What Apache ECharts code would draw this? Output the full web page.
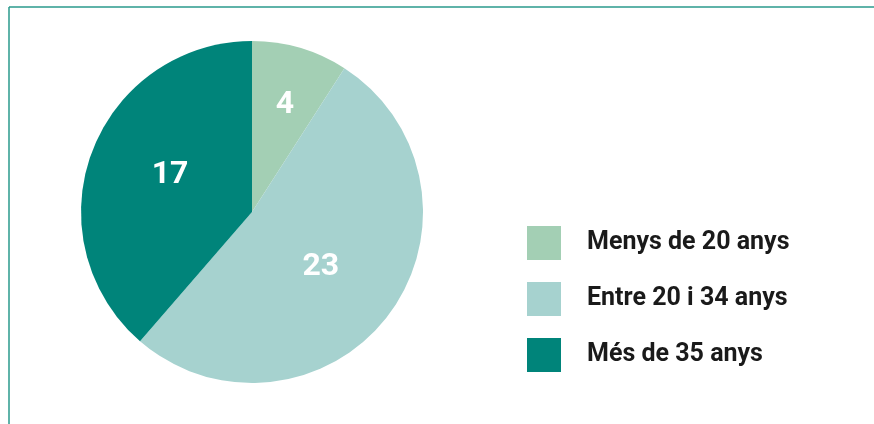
<!DOCTYPE html>
<html>
<head>
<meta charset="utf-8">
<script src="https://cdn.jsdelivr.net/npm/echarts@6/dist/echarts.min.js"></script>
<style>
  html, body { margin: 0; padding: 0; background: #fff; }
  #chart { width: 874px; height: 424px; }
</style>
</head>
<body>
<div id="chart"></div>
<script>
var categories = ['Menys de 20 anys', 'Entre 20 i 34 anys', 'Més de 35 anys'];
var values = [4, 23, 17];
var colors = ['#a3cfb4', '#a6d2cf', '#00847a'];
// small nudges so the numbers sit where they do in the original
var labelOffsets = [[8, -22], [-2, 2], [1, -6]];

var myChart = echarts.init(document.getElementById('chart'));

var dataObj = [];
for (var i = 0; i < categories.length; i++) {
	dataObj.push({
		name: categories[i],
		value: values[i],
		itemStyle: { color: colors[i] },
		label: { offset: labelOffsets[i] }
	});
}

var option = {
	animation: false,
	graphic: [
		{ type: 'line', shape: { x1: 9, y1: 7, x2: 874, y2: 7 }, style: { stroke: '#2a9a8c', lineWidth: 1.5 } },
		{ type: 'line', shape: { x1: 9, y1: 7, x2: 9, y2: 424 }, style: { stroke: '#2a9a8c', lineWidth: 1.5 } }
	],
	legend: {
		orient: 'vertical',
		left: 527,
		top: 226,
		padding: 0,
		itemWidth: 34,
		itemHeight: 34,
		itemGap: 22,
		icon: 'rect',
		selectedMode: false,
		data: categories,
		textStyle: {
			fontFamily: 'Roboto',
			fontWeight: 'bold',
			fontSize: 25,
			color: '#1a1a1a',
			padding: [0, 0, 0, 21]
		}
	},
	series: [
		{
			type: 'pie',
			center: [252, 212],
			radius: 171,
			startAngle: 90,
			clockwise: true,
			silent: true,
			label: {
				position: 'inside',
				formatter: '{c}',
				color: '#fff',
				fontFamily: 'Roboto',
				fontWeight: 'bold',
				fontSize: 32
			},
			labelLine: { show: false },
			itemStyle: { borderWidth: 0 },
			data: dataObj
		}
	]
};

myChart.setOption(option);
</script>
</body>
</html>
